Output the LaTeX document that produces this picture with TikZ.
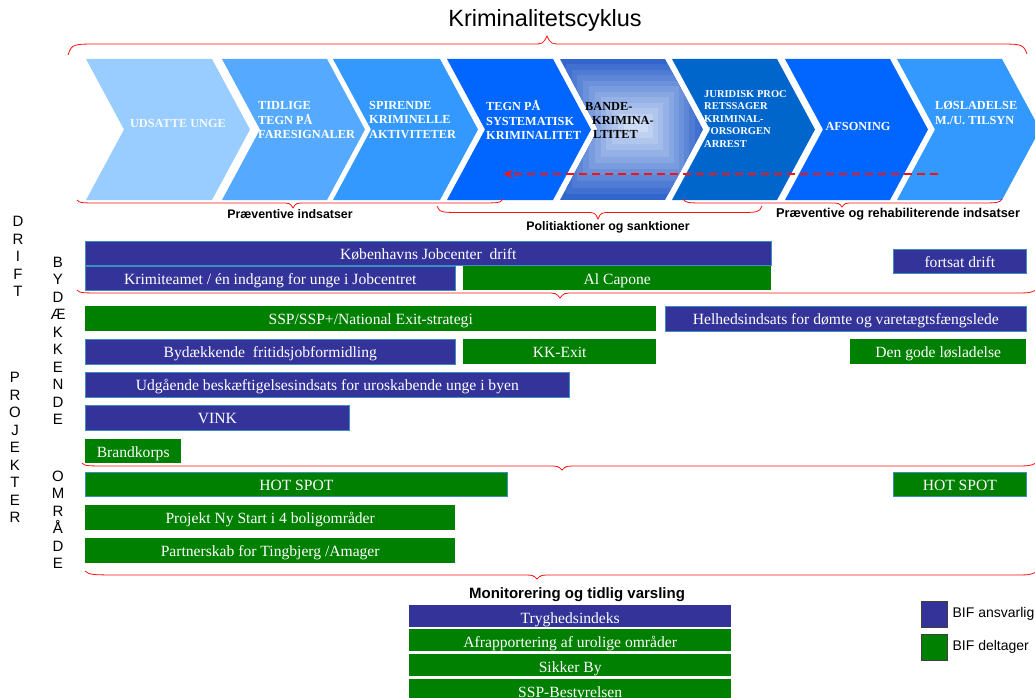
\documentclass[tikz,border=0pt]{standalone}
\usepackage{fontspec}
\setmainfont{Liberation Serif}
\setsansfont{Liberation Sans}
\usetikzlibrary{positioning,arrows.meta}

\definecolor{chevA}{HTML}{99CCFF}
\definecolor{chevB}{HTML}{55AAFF}
\definecolor{chevC}{HTML}{3399FF}
\definecolor{chevD}{HTML}{0066FF}
\definecolor{chevF}{HTML}{0066CC}
\definecolor{bandeyd}{HTML}{3366CC}
\definecolor{bandeind}{HTML}{E2ECFA}
\definecolor{bifblaa}{HTML}{333399}
\definecolor{bifgroen}{HTML}{008000}
\definecolor{boksrand}{HTML}{3A8FC0}
\definecolor{klammerod}{HTML}{FF1010}

\tikzset{
  maal/.style 2 args={minimum width=#1pt, minimum height=#2pt},
  boks/.style={anchor=north west, inner sep=0pt, text=white,
    text height=12.5pt, text depth=0.5pt,
    font=\fontsize{15.6}{17}\selectfont},
  lavboks/.style={text height=15pt, text depth=0pt},
  blaaboks/.style={boks, fill=bifblaa, draw=boksrand, line width=0.6pt},
  groenboks/.style={boks, fill=bifgroen},
  chevtekst/.style={anchor=west, inner sep=0pt, align=left, text=white,
    font=\bfseries\fontsize{12.3}{14.3}\selectfont},
  lodret/.style={inner sep=0pt, align=center,
    font=\sffamily\fontsize{15}{17.5}\selectfont},
  overskrift/.style={inner sep=0pt, font=\sffamily\bfseries\fontsize{12.4}{14}\selectfont},
  forklaring/.style={inner sep=0pt, font=\sffamily\fontsize{14}{16}\selectfont},
  klamme/.style={draw=klammerod, line width=0.8pt},
}

\begin{document}
\begin{tikzpicture}[x=1pt, y=-1pt]
\useasboundingbox (0,0) rectangle (1035,698);

% Titel og stor klamme
\node[inner sep=0pt, font=\sffamily\fontsize{23.5}{26}\selectfont] (titel) at (545,20) {Kriminalitetscyklus};
\draw[klamme] (68,55) .. controls (72,44) .. (100,44) -- (532,44)
  .. controls (543,44) .. (547,36) .. controls (551,44) .. (562,44)
  -- (995,44) .. controls (1023,44) .. (1027,54);

% Chevroner
\fill[chevA] (86,59) -- (212,59) -- (250,129.5) -- (212,200) -- (86,200) -- (124,129.5) -- cycle;
\fill[chevB] (222,59) -- (327,59) -- (365,129.5) -- (327,200) -- (222,200) -- (260,129.5) -- cycle;
\fill[chevC] (333,59) -- (440,59) -- (478,129.5) -- (440,200) -- (333,200) -- (371,129.5) -- cycle;
\fill[chevD] (447,59) -- (553,59) -- (591,129.5) -- (553,200) -- (447,200) -- (485,129.5) -- cycle;
\begin{scope}
  \clip (560,59) -- (665,59) -- (703,129.5) -- (665,200) -- (560,200) -- (598,129.5) -- cycle;
  \foreach \i in {0,...,11}{
    \pgfmathtruncatemacro\pct{100-8*\i}
    \fill[bandeyd!\pct!bandeind] ({560+5.8*\i},{59+5.5*\i}) rectangle ({705-5.2*\i},{200-6.2*\i});
  }
\end{scope}
\fill[chevF] (672,59) -- (777,59) -- (815,129.5) -- (777,200) -- (672,200) -- (710,129.5) -- cycle;
\fill[chevD] (785,59) -- (890,59) -- (928,129.5) -- (890,200) -- (785,200) -- (823,129.5) -- cycle;
\fill[chevC] (897,59) -- (1002,59) -- (1040,129.5) -- (1002,200) -- (897,200) -- (935,129.5) -- cycle;

\node[chevtekst, anchor=center, text=white!90!chevA] (udsatte) at (178,123) {UDSATTE UNGE};
\node[chevtekst] (tidlige) at (258,120) {TIDLIGE\\TEGN PÅ\\FARESIGNALER};
\node[chevtekst] (spirende) at (369,120) {SPIRENDE\\KRIMINELLE\\AKTIVITETER};
\node[chevtekst] (systematisk) at (486,120) {TEGN PÅ\\SYSTEMATISK\\KRIMINALITET};
\node[chevtekst, text=black] (bande) at (585,120.5) {BANDE-\\\hspace{7pt}KRIMINA-\\\hspace{8pt}LTITET};
\begin{scope}
  \clip (672,59) -- (777,59) -- (815,129.5) -- (777,200) -- (672,200) -- (710,129.5) -- cycle;
  \node[chevtekst, font=\bfseries\fontsize{10.5}{12.5}\selectfont] (juridisk) at (704,119)
    {JURIDISK PROC\\RETSSAGER\\KRIMINAL-\\FORSORGEN\\ARREST};
\end{scope}
\node[chevtekst, anchor=center] (afsoning) at (858,126) {AFSONING};
\node[chevtekst] (loesladelse) at (935,113) {LØSLADELSE\\M./U. TILSYN};

% Stiplet pil tilbage
\coordinate (pilstart) at (938,174);
\coordinate (pilslut) at (503,174);
\draw[klammerod, line width=1.1pt, dash pattern=on 8pt off 5pt, -{Stealth[length=10pt, width=8pt]}] (pilstart) -- (pilslut);

% Klammer under chevronerne
\draw[klamme] (77,200) .. controls (80,203) .. (105,203) -- (280,203)
  .. controls (290,203) .. (293,208) .. controls (296,203) .. (306,203)
  -- (475,203) .. controls (500,203) .. (503,199);
\draw[klamme] (437,206) .. controls (440,212.5) .. (465,212.5) -- (585,212.5)
  .. controls (595,212.5) .. (598,219) .. controls (601,212.5) .. (611,212.5)
  -- (735,212.5) .. controls (759,212.5) .. (762,206);
\draw[klamme] (683,199) .. controls (686,203) .. (710,203) -- (830,203)
  .. controls (839,203) .. (842,207) .. controls (845,203) .. (854,203)
  -- (975,203) .. controls (999,203) .. (1002,199);
\node[overskrift] (praeventive) at (290,214) {Præventive indsatser};
\node[overskrift] (politi) at (608,227) {Politiaktioner og sanktioner};
\node[overskrift, font=\sffamily\bfseries\fontsize{12.8}{14}\selectfont] (rehab) at (898,214) {Præventive og rehabiliterende indsatser};

% Lodrette etiketter
\node[lodret] (drift) at (18,256.5) {D\\R\\I\\F\\T};
\node[lodret] (bydaekkende) at (58,341) {B\\Y\\D\\Æ\\K\\K\\E\\N\\D\\E};
\node[lodret] (projekter) at (15,447.5) {P\\R\\O\\J\\E\\K\\T\\E\\R};
\node[lodret] (omraade) at (58,520) {O\\M\\R\\Å\\D\\E};

% Drift
\node[blaaboks, maal={686}{24}] (jobcenter) at (85,241) {Københavns Jobcenter\ \ drift};
\node[blaaboks, maal={370}{24}] (krimiteam) at (85,266) {Krimiteamet / én indgang for unge i Jobcentret};
\node[groenboks, maal={308}{24}] (alcapone) at (463,266) {Al Capone};
\node[blaaboks, maal={133}{24}] (fortsat) at (893,249) {fortsat drift};
\draw[klamme] (77,290) .. controls (80,293) .. (110,293) -- (545,293)
  .. controls (556,293) .. (560,298) .. controls (564,293) .. (575,293)
  -- (1010,293) .. controls (1030,293) .. (1036,290);

% Bydaekkende
\node[groenboks, maal={571}{25}] (ssp) at (85,306) {SSP/SSP+/National Exit-strategi};
\node[blaaboks, maal={361}{25}] (helhed) at (665,306) {Helhedsindsats for dømte og varetægtsfængslede};
\node[blaaboks, maal={370}{25}] (fritid) at (85,339) {Bydækkende\ \ fritidsjobformidling};
\node[groenboks, maal={193}{25}] (kkexit) at (463,339) {KK-Exit};
\node[groenboks, maal={176}{25}] (godeloes) at (850,339) {Den gode løsladelse};
\node[blaaboks, maal={484}{25}] (udgaaende) at (85,372) {Udgående beskæftigelsesindsats for uroskabende unge i byen};
\node[blaaboks, maal={264}{25}] (vink) at (85,405) {VINK};
\node[groenboks, maal={96}{24}] (brandkorps) at (85,439) {Brandkorps};
\draw[klamme] (82,463) .. controls (85,466) .. (115,466) -- (547,466)
  .. controls (558,466) .. (562,470) .. controls (566,466) .. (577,466)
  -- (1010,466) .. controls (1030,466) .. (1036,463);

% Omraade
\node[groenboks, draw=boksrand, line width=0.6pt, maal={422}{24}] (hotspotA) at (85,472) {HOT SPOT};
\node[groenboks, draw=boksrand, line width=0.6pt, maal={133}{24}] (hotspotB) at (893,472) {HOT SPOT};
\node[groenboks, maal={370}{25}] (nystart) at (85,505) {Projekt Ny Start i 4 boligområder};
\node[groenboks, maal={370}{25}] (partner) at (85,538) {Partnerskab for Tingbjerg /Amager};
\draw[klamme] (85,571) .. controls (90,575) .. (130,575) -- (522,575)
  .. controls (533,575) .. (537,579) .. controls (541,575) .. (552,575)
  -- (1010,575) .. controls (1030,575) .. (1036,572);

% Monitorering
\node[overskrift, font=\sffamily\bfseries\fontsize{15}{17}\selectfont] (monitor) at (577,595) {Monitorering og tidlig varsling};
\node[boks, lavboks, fill=bifblaa, maal={322}{22}] (tryg) at (409,605) {Tryghedsindeks};
\node[groenboks, lavboks, maal={322}{22}] (afrap) at (409,629) {Afrapportering af urolige områder};
\node[groenboks, lavboks, maal={322}{22}] (sikker) at (409,654) {Sikker By};
\node[groenboks, lavboks, maal={322}{22}] (sspbest) at (409,679) {SSP-Bestyrelsen};

% Forklaring
\node[fill=bifblaa, draw=black!75, line width=0.8pt, minimum size=26pt, inner sep=0pt] (legblaa) at (934,614) {};
\node[fill=bifgroen, draw=black!75, line width=0.8pt, minimum size=26pt, inner sep=0pt] (leggroen) at (934,647) {};
\node[forklaring, right=5pt of legblaa] (ansvarlig) {BIF ansvarlig};
\node[forklaring, right=5pt of leggroen] (deltager) {BIF deltager};
\end{tikzpicture}
\end{document}
